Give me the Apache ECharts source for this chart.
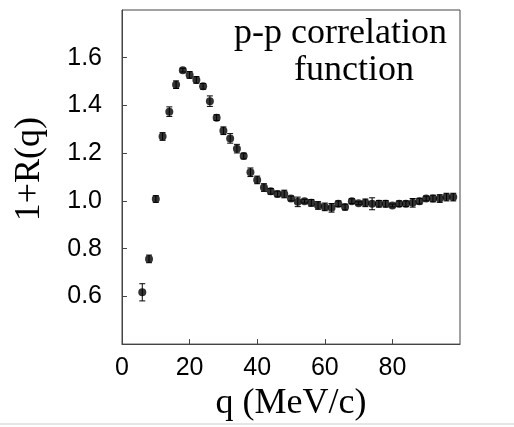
<!DOCTYPE html>
<html>
<head>
<meta charset="utf-8">
<script src="https://cdn.jsdelivr.net/npm/echarts@6/dist/echarts.min.js"></script>
<style>
  html, body { margin: 0; padding: 0; background: #fff; }
  #chart { width: 514px; height: 427px; }
</style>
</head>
<body>
<div id="chart"></div>
<script>
// momentum q (MeV/c)
const qValues = [6, 8, 10, 12, 14, 16, 18, 20, 22, 24, 26, 28, 30, 32, 34, 36, 38, 40,
  42, 44, 46, 48, 50, 52, 54, 56, 58, 60, 62, 64, 66, 68, 70, 72, 74, 76, 78, 80,
  82, 84, 86, 88, 90, 92, 94, 96, 98];
// 1+R(q)
const corrValues = [0.617, 0.757, 1.008, 1.270, 1.374, 1.487, 1.548, 1.528, 1.507, 1.480,
  1.418, 1.349, 1.294, 1.262, 1.219, 1.188, 1.120, 1.088, 1.056, 1.040, 1.029, 1.029,
  1.010, 0.996, 0.999, 0.992, 0.981, 0.975, 0.971, 0.988, 0.974, 0.999, 0.990, 0.992,
  0.988, 0.988, 0.988, 0.981, 0.988, 0.988, 0.992, 0.999, 1.010, 1.010, 1.010, 1.016, 1.016];
// half length of error bars
const corrErrors = [0.036, 0.016, 0.014, 0.016, 0.02, 0.016, 0.008, 0.014, 0.014, 0.012,
  0.022, 0.012, 0.016, 0.02, 0.018, 0.012, 0.018, 0.016, 0.016, 0.012, 0.012, 0.016,
  0.01, 0.02, 0.008, 0.014, 0.016, 0.016, 0.018, 0.012, 0.012, 0.01, 0.006, 0.016,
  0.025, 0.014, 0.014, 0.006, 0.012, 0.012, 0.018, 0.012, 0.01, 0.014, 0.016, 0.016, 0.016];
const yTicks = [0.4, 0.6, 0.8, 1.0, 1.2, 1.4, 1.6, 1.8];
const xTicks = [0, 20, 40, 60, 80, 100];

const points = qValues.map((q, i) => [q, corrValues[i]]);
const bars = qValues.map((q, i) => [q, corrValues[i] - corrErrors[i], corrValues[i] + corrErrors[i]]);

const chart = echarts.init(document.getElementById('chart'));

const option = {
  animation: false,
  backgroundColor: '#fff',
  grid: {
    left: 122, right: 54, top: 10, bottom: 78,
    show: true, borderColor: '#444', borderWidth: 1
  },
  xAxis: {
    type: 'value',
    min: xTicks[0], max: xTicks[xTicks.length - 1], interval: 20,
    name: 'q (MeV/c)',
    nameLocation: 'middle',
    nameGap: 41,
    nameTextStyle: { fontFamily: 'Liberation Serif', fontSize: 36, color: '#000' },
    axisLine: { show: true, lineStyle: { color: '#444' } },
    axisTick: { show: true, inside: true, length: 5, lineStyle: { color: '#444' } },
    axisLabel: {
      color: '#000', fontFamily: 'Liberation Sans', fontSize: 25, margin: 12,
      showMaxLabel: false
    },
    splitLine: { show: false }
  },
  yAxis: {
    type: 'value',
    min: yTicks[0], max: yTicks[yTicks.length - 1], interval: 0.2,
    name: '1+R(q)',
    nameLocation: 'middle',
    nameGap: 74,
    nameTextStyle: {
      fontFamily: 'Liberation Serif', fontSize: 36, color: '#000',
      padding: [0, 0, 0, 16]
    },
    axisLine: { show: true, lineStyle: { color: '#444' } },
    axisTick: { show: true, inside: true, length: 5, lineStyle: { color: '#444' } },
    axisLabel: {
      color: '#000', fontFamily: 'Liberation Sans', fontSize: 25, margin: 20,
      showMinLabel: false, showMaxLabel: false,
      formatter: v => v.toFixed(1)
    },
    splitLine: { show: false }
  },
  graphic: [
    {
      type: 'text', left: 234, top: 16,
      style: { text: 'p-p correlation', fontFamily: 'Liberation Serif', fontSize: 36, fill: '#000' }
    },
    {
      type: 'text', left: 294, top: 53,
      style: { text: 'function', fontFamily: 'Liberation Serif', fontSize: 36, fill: '#000' }
    },
    {
      type: 'line', shape: { x1: 0, y1: 424, x2: 514, y2: 424 },
      style: { stroke: '#ccc', lineWidth: 1 }
    }
  ],
  series: [
    {
      type: 'custom',
      data: bars,
      renderItem: (params, api) => {
        const x = api.value(0);
        const lo = api.coord([x, api.value(1)]);
        const hi = api.coord([x, api.value(2)]);
        const w = 3;
        const st = { stroke: '#000', lineWidth: 1 };
        return {
          type: 'group',
          children: [
            { type: 'line', shape: { x1: lo[0], y1: lo[1], x2: hi[0], y2: hi[1] }, style: st },
            { type: 'line', shape: { x1: lo[0] - w, y1: lo[1], x2: lo[0] + w, y2: lo[1] }, style: st },
            { type: 'line', shape: { x1: hi[0] - w, y1: hi[1], x2: hi[0] + w, y2: hi[1] }, style: st }
          ]
        };
      },
      z: 2
    },
    {
      type: 'scatter',
      data: points,
      symbol: 'circle',
      symbolSize: 8,
      itemStyle: { color: '#000' },
      z: 3
    }
  ]
};

chart.setOption(option);
</script>
</body>
</html>
